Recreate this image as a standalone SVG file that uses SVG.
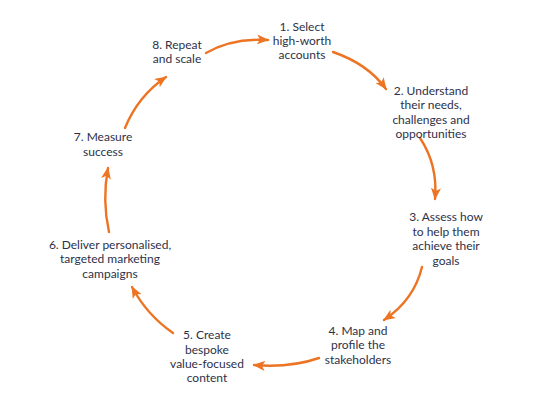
<svg xmlns="http://www.w3.org/2000/svg" width="547" height="404" viewBox="0 0 547 404">
<style>
.t{font-family:Lato,"Noto Sans","Liberation Sans",sans-serif;font-size:12px;fill:#2e3148;text-anchor:middle}
.c{fill:none;stroke:#ec7423;stroke-width:2.4;stroke-linecap:round}
</style>
<defs>
<marker id="ah" markerUnits="userSpaceOnUse" markerWidth="14" markerHeight="12" refX="11" refY="5" orient="auto">
<path d="M0,0 L12,5 L0,10 L3,5 Z" fill="#ec7423"/>
</marker>
</defs>
<rect width="547" height="404" fill="#ffffff"/>
<g id="connectors">
<path class="c" marker-end="url(#ah)" d="M206,53 Q232,38 268,40"/>
<path class="c" marker-end="url(#ah)" d="M333,52 Q368,64 386,89"/>
<path class="c" marker-end="url(#ah)" d="M420,138 Q438,165 435,199"/>
<path class="c" marker-end="url(#ah)" d="M422,267 Q414,300 384,320"/>
<path class="c" marker-end="url(#ah)" d="M319,358 Q290,368 254,365"/>
<path class="c" marker-end="url(#ah)" d="M173,333 Q147,315 132,287"/>
<path class="c" marker-end="url(#ah)" d="M109,232 Q102,200 108,168"/>
<path class="c" marker-end="url(#ah)" d="M125,128 Q138,96 166,77"/>
</g>
<g id="n1"><text class="t" x="302" y="31">1. Select</text><text class="t" x="302" y="45">high-worth</text><text class="t" x="302" y="59">accounts</text></g>
<g id="n2"><text class="t" x="431" y="95">2. Understand</text><text class="t" x="431" y="109">their needs,</text><text class="t" x="431" y="124">challenges and</text><text class="t" x="431" y="138">opportunities</text></g>
<g id="n3"><text class="t" x="446" y="221">3. Assess how</text><text class="t" x="446" y="236">to help them</text><text class="t" x="446" y="250">achieve their</text><text class="t" x="446" y="265">goals</text></g>
<g id="n4"><text class="t" x="358" y="335">4. Map and</text><text class="t" x="358" y="349">profile the</text><text class="t" x="358" y="364">stakeholders</text></g>
<g id="n5"><text class="t" x="207" y="339">5. Create</text><text class="t" x="207" y="354">bespoke</text><text class="t" x="207" y="368">value-focused</text><text class="t" x="207" y="382">content</text></g>
<g id="n6"><text class="t" x="110" y="249">6. Deliver personalised,</text><text class="t" x="110" y="263">targeted marketing</text><text class="t" x="110" y="278">campaigns</text></g>
<g id="n7"><text class="t" x="103" y="141">7. Measure</text><text class="t" x="103" y="156">success</text></g>
<g id="n8"><text class="t" x="177" y="49">8. Repeat</text><text class="t" x="177" y="63">and scale</text></g>
</svg>
